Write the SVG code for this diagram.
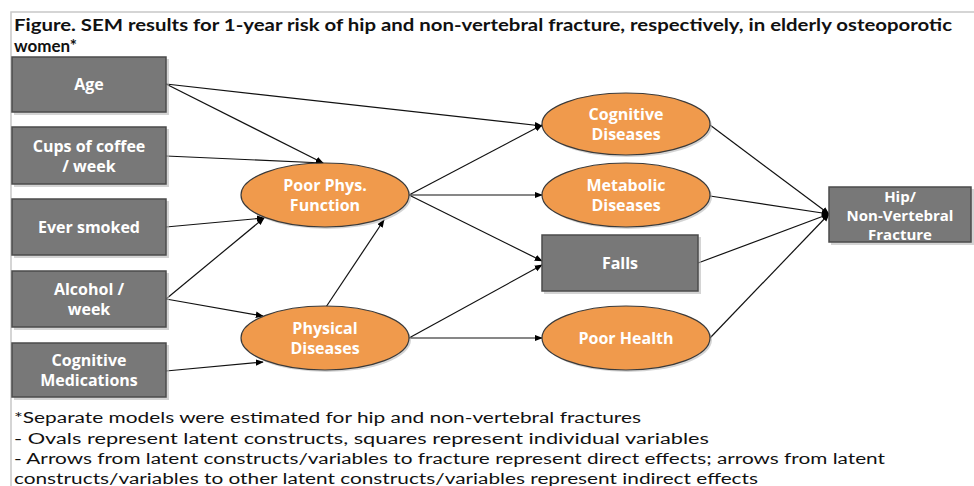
<svg xmlns="http://www.w3.org/2000/svg" width="974" height="486" viewBox="0 0 974 486">
<defs>
<style>
.box{fill:#787878;stroke:#4b4b4b;stroke-width:1.5}
.shadow{fill:#b8b8b8;opacity:0.6}
.oval{fill:#F09A4C;stroke:#3a3a3a;stroke-width:1.2}
.lbl{font-family:"Open Sans","DejaVu Sans",sans-serif;font-weight:bold;font-size:16px;fill:#ffffff;text-anchor:middle}
.lbl.sm{font-size:15px}
.title{font-family:Lato,"Liberation Sans",sans-serif;font-weight:bold;font-size:17px;fill:#111}
.note{font-family:Lato,"Liberation Sans",sans-serif;font-size:15.5px;fill:#111}
.edge{stroke:#111;stroke-width:1.2;fill:none;marker-end:url(#ah)}
</style>
<marker id="ah" viewBox="0 0 10 10" refX="9" refY="5" markerWidth="8" markerHeight="8" markerUnits="userSpaceOnUse" orient="auto">
<path d="M0,1 L10,5 L0,9 Z" fill="#000"/>
</marker>
</defs>
<rect width="974" height="486" fill="#fff"/>
<path d="M11,486 L11,12 L974,12" fill="none" stroke="#c8c8c8" stroke-width="1.5"/>
<text class="title" x="14" y="31" textLength="938" lengthAdjust="spacingAndGlyphs">Figure. SEM results for 1-year risk of hip and non-vertebral fracture, respectively, in elderly osteoporotic</text>
<text class="title" x="14" y="52">women*</text>

<g id="connectors">
<line class="edge" x1="166" y1="84" x2="323" y2="163"/>
<line class="edge" x1="166" y1="84" x2="542" y2="126"/>
<line class="edge" x1="166" y1="156" x2="323" y2="163"/>
<line class="edge" x1="166" y1="227" x2="264" y2="218"/>
<line class="edge" x1="166" y1="299" x2="264" y2="218"/>
<line class="edge" x1="166" y1="299" x2="263" y2="316"/>
<line class="edge" x1="166" y1="371" x2="263" y2="362"/>
<line class="edge" x1="326" y1="307" x2="384" y2="220"/>
<line class="edge" x1="409" y1="195" x2="542" y2="125"/>
<line class="edge" x1="409" y1="195" x2="542" y2="195"/>
<line class="edge" x1="409" y1="195" x2="542" y2="261"/>
<line class="edge" x1="409" y1="338" x2="542" y2="265"/>
<line class="edge" x1="409" y1="338" x2="542" y2="338"/>
<line class="edge" x1="710" y1="125" x2="829" y2="214"/>
<line class="edge" x1="710" y1="196" x2="829" y2="214"/>
<line class="edge" x1="698" y1="263" x2="829" y2="214"/>
<line class="edge" x1="710" y1="338" x2="829" y2="214"/>
</g>

<g id="age"><rect class="shadow" x="14" y="59" width="155" height="56"/><rect class="box" x="12" y="57" width="154" height="55"/><text class="lbl" x="89" y="90">Age</text></g>
<g id="coffee"><rect class="shadow" x="14" y="129" width="155" height="58"/><rect class="box" x="12" y="127" width="154" height="57"/><text class="lbl" x="89" y="152">Cups of coffee</text><text class="lbl" x="89" y="172">/ week</text></g>
<g id="smoked"><rect class="shadow" x="14" y="201" width="155" height="57"/><rect class="box" x="12" y="199" width="154" height="56"/><text class="lbl" x="89" y="233">Ever smoked</text></g>
<g id="alcohol"><rect class="shadow" x="14" y="273" width="155" height="57"/><rect class="box" x="12" y="271" width="154" height="56"/><text class="lbl" x="89" y="295">Alcohol /</text><text class="lbl" x="89" y="315">week</text></g>
<g id="cogmeds"><rect class="shadow" x="14" y="345" width="155" height="55"/><rect class="box" x="12" y="343" width="154" height="54"/><text class="lbl" x="89" y="366">Cognitive</text><text class="lbl" x="89" y="386">Medications</text></g>

<g id="poorphys"><ellipse class="shadow" cx="327" cy="197" rx="84" ry="32"/><ellipse class="oval" cx="325" cy="195" rx="84" ry="32"/><text class="lbl" x="325" y="191">Poor Phys.</text><text class="lbl" x="325" y="211">Function</text></g>
<g id="physdis"><ellipse class="shadow" cx="327" cy="340" rx="84" ry="32"/><ellipse class="oval" cx="325" cy="338" rx="84" ry="32"/><text class="lbl" x="325" y="334">Physical</text><text class="lbl" x="325" y="354">Diseases</text></g>

<g id="cogdis"><ellipse class="shadow" cx="628" cy="126" rx="84" ry="31"/><ellipse class="oval" cx="626" cy="124" rx="84" ry="31"/><text class="lbl" x="626" y="120">Cognitive</text><text class="lbl" x="626" y="140">Diseases</text></g>
<g id="metdis"><ellipse class="shadow" cx="628" cy="197" rx="84" ry="32"/><ellipse class="oval" cx="626" cy="195" rx="84" ry="32"/><text class="lbl" x="626" y="191">Metabolic</text><text class="lbl" x="626" y="211">Diseases</text></g>
<g id="falls"><rect class="shadow" x="544" y="237" width="157" height="57"/><rect class="box" x="542" y="235" width="156" height="56"/><text class="lbl" x="620" y="269">Falls</text></g>
<g id="poorhealth"><ellipse class="shadow" cx="628" cy="340" rx="84" ry="32"/><ellipse class="oval" cx="626" cy="338" rx="84" ry="32"/><text class="lbl" x="626" y="344">Poor Health</text></g>

<g id="fracture"><rect class="shadow" x="831" y="189" width="143" height="56"/><rect class="box" x="829" y="187" width="142" height="55"/><text class="lbl sm" x="900" y="202">Hip/</text><text class="lbl sm" x="900" y="221">Non-Vertebral</text><text class="lbl sm" x="900" y="240">Fracture</text></g>

<text class="note" x="14" y="423" textLength="627" lengthAdjust="spacingAndGlyphs">*Separate models were estimated for hip and non-vertebral fractures</text>
<text class="note" x="14" y="444" textLength="695" lengthAdjust="spacingAndGlyphs">- Ovals represent latent constructs, squares represent individual variables</text>
<text class="note" x="14" y="464" textLength="871" lengthAdjust="spacingAndGlyphs">- Arrows from latent constructs/variables to fracture represent direct effects; arrows from latent</text>
<text class="note" x="14" y="484" textLength="744" lengthAdjust="spacingAndGlyphs">constructs/variables to other latent constructs/variables represent indirect effects</text>
</svg>
